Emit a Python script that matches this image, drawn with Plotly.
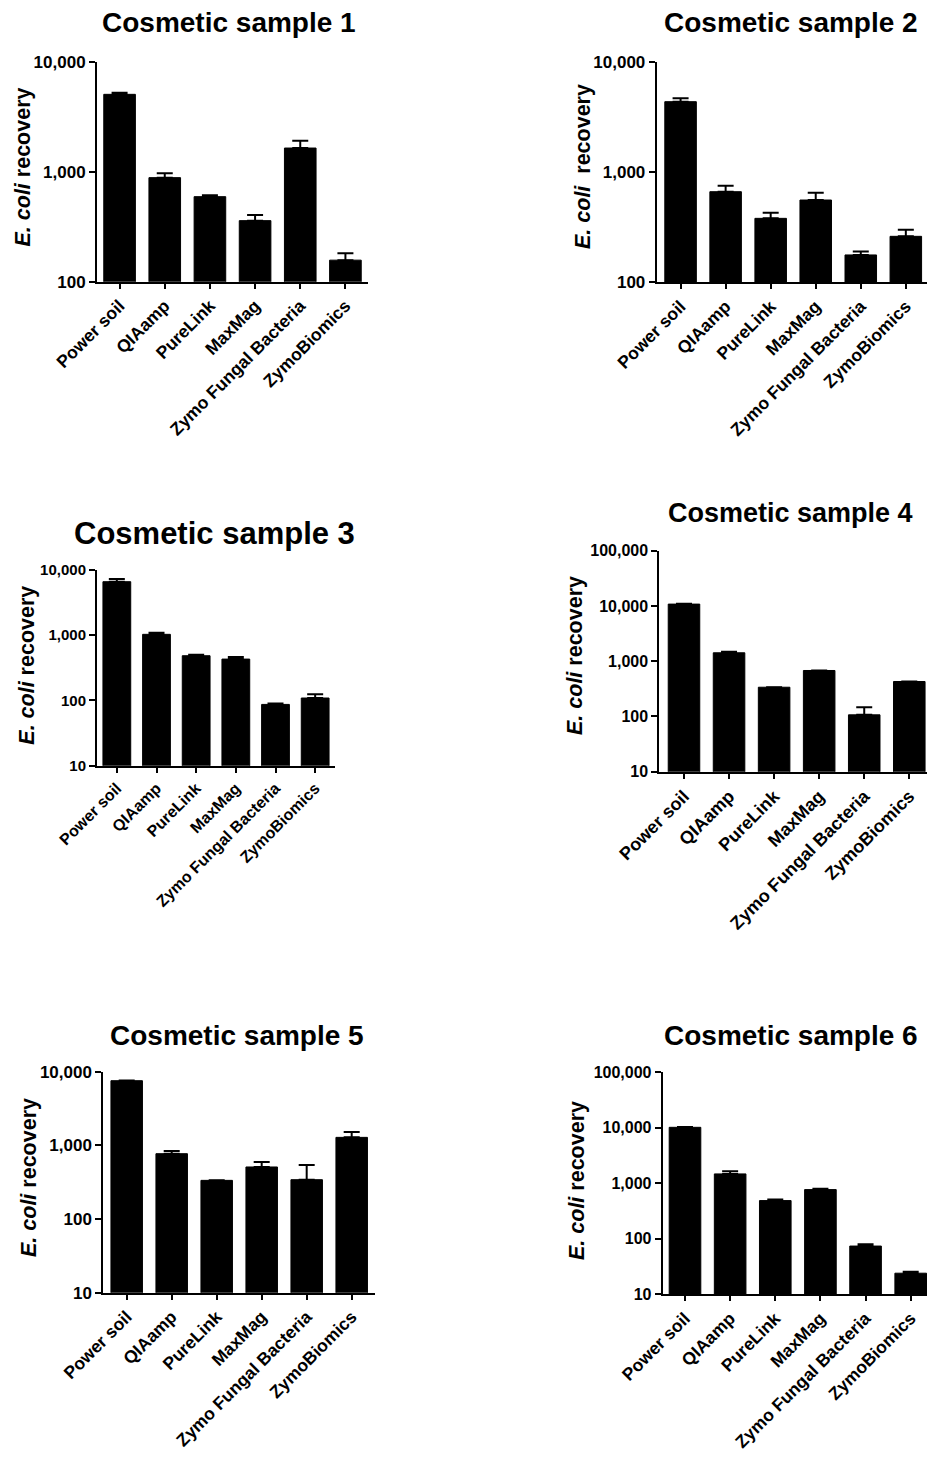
import plotly.graph_objects as go

W, H = 927, 1458

categories = ["Power soil", "QIAamp", "PureLink", "MaxMag", "Zymo Fungal Bacteria", "ZymoBiomics"]

titles = ["Cosmetic sample 1", "Cosmetic sample 2", "Cosmetic sample 3",
          "Cosmetic sample 4", "Cosmetic sample 5", "Cosmetic sample 6"]

s1 = [5050, 883, 593, 359, 1641, 157]
e1 = [170, 83, 17, 45, 270, 24]
s2 = [4340, 663, 380, 557, 177, 261]
e2 = [320, 88, 48, 92, 13, 39]
s3 = [6620, 1032, 485, 431, 87, 109]
e3 = [660, 60, 17, 33, 3, 16]
s4 = [10800, 1420, 338, 679, 107, 429]
e4 = [200, 60, 0, 0, 40, 0]
s5 = [7550, 771, 335, 509, 342, 1284]
e5 = [50, 65, 0, 87, 200, 230]
s6 = [10200, 1476, 488, 770, 74, 24]
e6 = [100, 170, 20, 30, 6, 1.5]

yticks_a = [100, 1000, 10000]
yticks_a_text = ["100", "1,000", "10,000"]
yticks_b = [10, 100, 1000, 10000]
yticks_b_text = ["10", "100", "1,000", "10,000"]
yticks_c = [10, 100, 1000, 10000, 100000]
yticks_c_text = ["10", "100", "1,000", "10,000", "100,000"]

ytitle_std = "<i>E. coli</i> recovery"
ytitle_p2 = "<i>E. coli</i>\u00a0 recovery"

FONT = "Liberation Sans, Arial, Helvetica, sans-serif"

panels = [
    dict(vals=s1, err=e1, xd=(97, 368), yd=(61.7, 281.7), xr=(-0.5, 5.5), yr=(2, 4),
         tv=yticks_a, tt=yticks_a_text, tc=(229, 23), yc=(22, 167.5), yt=ytitle_std,
         fs_title=28, fs_tick=17, fs_cat=17.5),
    dict(vals=s2, err=e2, xd=(656.7, 927), yd=(61.7, 282.3), xr=(-0.53, 5.47), yr=(2, 4),
         tv=yticks_a, tt=yticks_a_text, tc=(791, 23), yc=(583, 167), yt=ytitle_p2,
         fs_title=28, fs_tick=17, fs_cat=17.5),
    dict(vals=s3, err=e3, xd=(97, 335), yd=(570, 765.7), xr=(-0.5, 5.5), yr=(1, 4),
         tv=yticks_b, tt=yticks_b_text, tc=(214.5, 533), yc=(26.7, 665), yt=ytitle_std,
         fs_title=31, fs_tick=15, fs_cat=16),
    dict(vals=s4, err=e4, xd=(659.3, 927), yd=(550.7, 771.7), xr=(-0.548, 5.393), yr=(1, 5),
         tv=yticks_c, tt=yticks_c_text, tc=(790, 513), yc=(575, 656), yt=ytitle_std,
         fs_title=27, fs_tick=16, fs_cat=18),
    dict(vals=s5, err=e5, xd=(103.3, 375), yd=(1071.7, 1292.7), xr=(-0.52, 5.518), yr=(1, 4),
         tv=yticks_b, tt=yticks_b_text, tc=(237.5, 1035), yc=(29, 1178), yt=ytitle_std,
         fs_title=28, fs_tick=17, fs_cat=17.5),
    dict(vals=s6, err=e6, xd=(662.7, 927), yd=(1072.3, 1294.3), xr=(-0.494, 5.361), yr=(1, 5),
         tv=yticks_c, tt=yticks_c_text, tc=(790.5, 1035), yc=(577, 1181), yt=ytitle_std,
         fs_title=28, fs_tick=16, fs_cat=17.5),
]

fig = go.Figure()
annotations = []
layout_axes = {}

for i, p in enumerate(panels, start=1):
    sfx = "" if i == 1 else str(i)
    fig.add_trace(go.Bar(
        x=categories, y=p["vals"],
        xaxis="x" + sfx, yaxis="y" + sfx,
        width=0.7,
        marker=dict(color="black", line=dict(color="black", width=1)),
        error_y=dict(type="data", array=p["err"], arrayminus=[0] * len(p["err"]),
                     symmetric=False, color="black", thickness=2, width=8),
        showlegend=False,
    ))
    x0, x1 = p["xd"]
    yt0, yt1 = p["yd"]
    layout_axes["xaxis" + sfx] = dict(
        domain=[x0 / W, min(x1 / W, 1.0)],
        anchor="y" + sfx,
        type="category",
        range=list(p["xr"]),
        automargin=False,
        showline=True, linecolor="black", linewidth=2,
        ticks="outside", ticklen=5, tickwidth=2, tickcolor="black",
        tickangle=-45,
        tickfont=dict(family=FONT, size=p["fs_cat"], color="black", weight="bold"),
        showgrid=False, zeroline=False, fixedrange=True,
    )
    layout_axes["yaxis" + sfx] = dict(
        domain=[1 - yt1 / H, 1 - yt0 / H],
        anchor="x" + sfx,
        type="log",
        range=list(p["yr"]),
        automargin=False,
        tickvals=p["tv"], ticktext=p["tt"],
        showline=True, linecolor="black", linewidth=2,
        ticks="outside", ticklen=6, tickwidth=2, tickcolor="black",
        tickfont=dict(family=FONT, size=p["fs_tick"], color="black", weight="bold"),
        showgrid=False, zeroline=False, fixedrange=True,
    )
    annotations.append(dict(
        text=titles[i - 1], xref="paper", yref="paper",
        x=p["tc"][0] / W, y=1 - p["tc"][1] / H,
        xanchor="center", yanchor="middle", showarrow=False,
        font=dict(family=FONT, size=p["fs_title"], color="black", weight="bold"),
    ))
    annotations.append(dict(
        text=p["yt"], xref="paper", yref="paper",
        x=p["yc"][0] / W, y=1 - p["yc"][1] / H,
        xanchor="center", yanchor="middle", showarrow=False, textangle=-90,
        font=dict(family=FONT, size=21.5, color="black", weight="bold"),
    ))

fig.update_layout(
    template="none",
    width=W, height=H,
    autosize=False,
    margin=dict(l=0, r=0, t=0, b=0, autoexpand=False),
    paper_bgcolor="white", plot_bgcolor="white",
    annotations=annotations,
    hovermode=False,
    **layout_axes,
)

fig.write_html(
    "out.html",
    config={"displayModeBar": False, "staticPlot": True},
    post_script="document.body.style.margin='0';document.body.style.overflow='hidden';",
)
